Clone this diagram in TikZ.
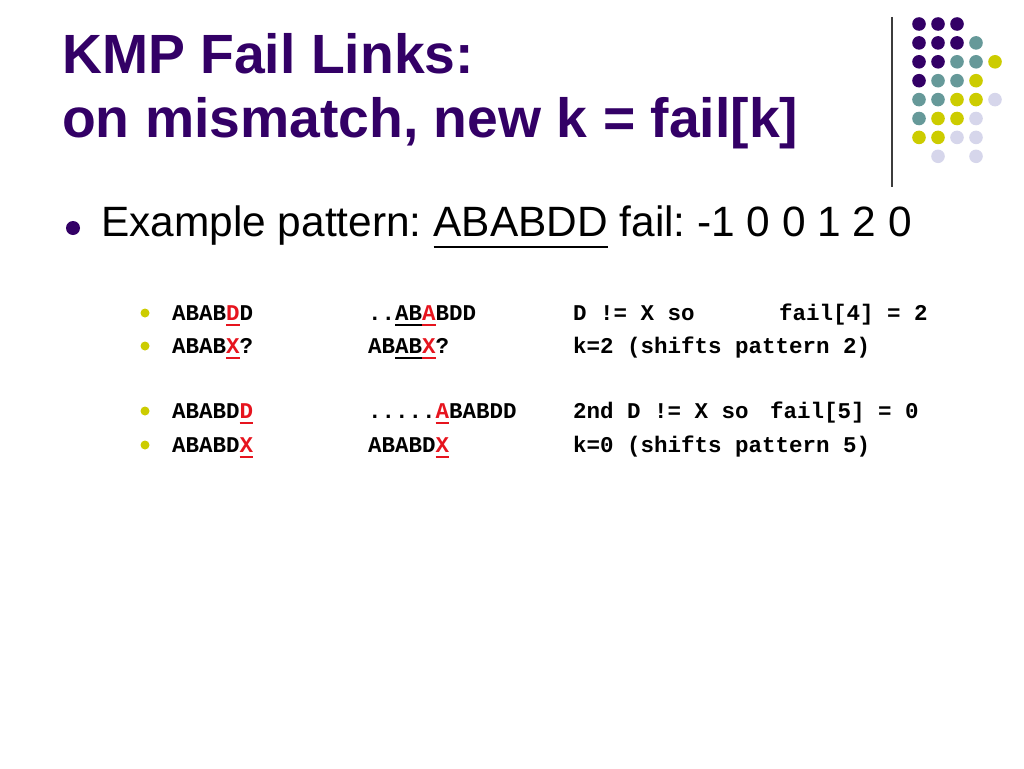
\documentclass[tikz,border=0pt]{standalone}
\usepackage{fontspec}
\setmainfont{Liberation Sans}
\setmonofont{Liberation Mono}
\usepackage{xcolor}
\frenchspacing

\definecolor{kmppurple}{RGB}{51,0,102}
\definecolor{kmpteal}{RGB}{102,153,153}
\definecolor{kmpyellow}{RGB}{204,204,0}
\definecolor{kmplilac}{RGB}{214,214,235}
\definecolor{kmpred}{RGB}{230,20,30}
\definecolor{kmpgray}{RGB}{60,60,60}

% underline a piece of text with a 2pt rule
\newcommand{\ulbox}[3]{{\color{#1}\setbox0=\hbox{#3}\rlap{\rule[#2]{\wd0}{2pt}}\box0}}
\newcommand{\miss}[1]{\ulbox{kmpred}{-6pt}{#1}}
\newcommand{\same}[1]{\ulbox{black}{-6pt}{#1}}

\begin{document}
\begin{tikzpicture}[x=1pt,y=-1pt,
    title/.style={anchor=base west,inner sep=0pt,text=kmppurple,
                  font=\fontsize{55.3}{60}\selectfont\bfseries},
    body/.style={anchor=base west,inner sep=0pt,font=\fontsize{42.4}{48}\selectfont},
    code/.style={anchor=base west,inner sep=0pt,font=\fontsize{22.5}{26}\selectfont\ttfamily\bfseries}]
        \useasboundingbox (0,0) rectangle (1024,768);

        % logo dots and rule
        \draw[kmpgray,line width=1.3pt] (892,17) -- (892,187);
        \foreach \c/\r/\col in {0/0/kmppurple,1/0/kmppurple,2/0/kmppurple,
                                0/1/kmppurple,1/1/kmppurple,2/1/kmppurple,3/1/kmpteal,
                                0/2/kmppurple,1/2/kmppurple,2/2/kmpteal,3/2/kmpteal,4/2/kmpyellow,
                                0/3/kmppurple,1/3/kmpteal,2/3/kmpteal,3/3/kmpyellow,
                                0/4/kmpteal,1/4/kmpteal,2/4/kmpyellow,3/4/kmpyellow,4/4/kmplilac,
                                0/5/kmpteal,1/5/kmpyellow,2/5/kmpyellow,3/5/kmplilac,
                                0/6/kmpyellow,1/6/kmpyellow,2/6/kmplilac,3/6/kmplilac,
                                1/7/kmplilac,3/7/kmplilac}
            \fill[\col] (919+19*\c,24+18.9*\r) circle (6.8pt);

        % title
        \node[title] (head1) at (62,73)  {KMP Fail Links:};
        \node[title] (head2) at (62,137) {on mismatch, new k = fail[k]};

        % main bullet
        \fill[kmppurple] (73,228) circle (7pt);
        \node[body] (pattern) at (101,236)
            {Example pattern: \ulbox{black}{-12pt}{ABABDD} fail: -1 0 0 1 2 0};

        % sub bullets
        \fill[kmpyellow] (145,313) circle (4.5pt);
        \fill[kmpyellow] (145,346) circle (4.5pt);
        \fill[kmpyellow] (145,411) circle (4.5pt);
        \fill[kmpyellow] (145,445) circle (4.5pt);

        \node[code] (textA) at (172,320) {ABAB\miss{D}D};
        \node[code] (textB) at (172,353) {ABAB\miss{X}?};
        \node[code] (textC) at (172,418) {ABABD\miss{D}};
        \node[code] (textD) at (172,452) {ABABD\miss{X}};

        \node[code] (shiftA) at (368,320) {..\same{AB}\miss{A}BDD};
        \node[code] (shiftB) at (368,353) {AB\same{AB}\miss{X}?};
        \node[code] (shiftC) at (368,418) {.....\miss{A}BABDD};
        \node[code] (shiftD) at (368,452) {ABABD\miss{X}};

        \node[code] (noteA) at (573,320) {D != X so};
        \node[code] (noteB) at (573,353) {k=2 (shifts pattern 2)};
        \node[code] (noteC) at (573,418) {2nd D != X so};
        \node[code] (noteD) at (573,452) {k=0 (shifts pattern 5)};

        \node[code] (failA) at (779,320) {fail[4] = 2};
        \node[code] (failC) at (770,418) {fail[5] = 0};
    \end{tikzpicture}
\end{document}
